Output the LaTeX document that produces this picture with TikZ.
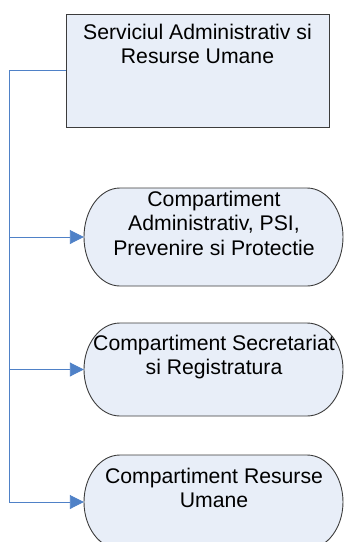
\documentclass[tikz,border=0pt]{standalone}
\usepackage{fontspec}
\setmainfont{Liberation Sans}
\usetikzlibrary{arrows.meta}
\definecolor{boxfill}{RGB}{232,238,248}
\definecolor{boxline}{RGB}{60,60,60}
\definecolor{linkblue}{RGB}{79,129,199}
\begin{document}
\begin{tikzpicture}[x=1pt,y=1pt,
  lbl/.style={align=center,inner sep=0pt,anchor=north,font=\fontsize{21.2}{24.5}\selectfont},
  frame/.style={draw=boxline,line width=0.9pt,fill=boxfill},
  holder/.style={draw=none,inner sep=0pt,minimum width=259pt},
  link/.style={draw=linkblue,line width=0.9pt},
  tip/.style={-{Triangle[length=14pt,width=14pt]}}]
\useasboundingbox (0,0) rectangle (345,-542);
\clip (0,0) rectangle (345,-542);

% head office
\node[frame,minimum width=263pt,minimum height=113pt,inner sep=0pt] (head) at (197.5,-70.5) {};
\node[lbl] (headtxt) at (197.5,-23.6) {Serviciul Administrativ si\\Resurse Umane};

% compartments: stadium outlines with elliptical ends
\draw[frame] (120,-188) -- (307,-188)
  arc[start angle=90,end angle=-90,x radius=36pt,y radius=49pt] -- (120,-286)
  arc[start angle=270,end angle=90,x radius=36pt,y radius=49pt] -- cycle;
\node[holder,minimum height=98pt] (s1) at (213.5,-237) {};
\node[lbl] (s1txt) at (214,-190.6) {Compartiment\\Administrativ, PSI,\\Prevenire si Protectie};

\draw[frame] (120,-323) -- (307,-323)
  arc[start angle=90,end angle=-90,x radius=36pt,y radius=46.5pt] -- (120,-416)
  arc[start angle=270,end angle=90,x radius=36pt,y radius=46.5pt] -- cycle;
\node[holder,minimum height=93pt] (s2) at (213.5,-369.5) {};
\node[lbl] (s2txt) at (214,-334.6) {Compartiment Secretariat\\si Registratura};

\draw[frame] (120,-455) -- (307,-455)
  arc[start angle=90,end angle=-90,x radius=36pt,y radius=47pt] -- (120,-549)
  arc[start angle=270,end angle=90,x radius=36pt,y radius=47pt] -- cycle;
\node[holder,minimum height=94pt] (s3) at (213.5,-502) {};
\node[lbl] (s3txt) at (214,-467.6) {Compartiment Resurse\\Umane};

% connectors
\coordinate (railtop) at (9,-70.5);
\draw[link] (head.west) -- (railtop) -- (railtop |- s3.west);
\draw[link,tip] (railtop |- s1.west) -- (s1.west);
\draw[link,tip] (railtop |- s2.west) -- (s2.west);
\draw[link,tip] (railtop |- s3.west) -- (s3.west);
\end{tikzpicture}
\end{document}
